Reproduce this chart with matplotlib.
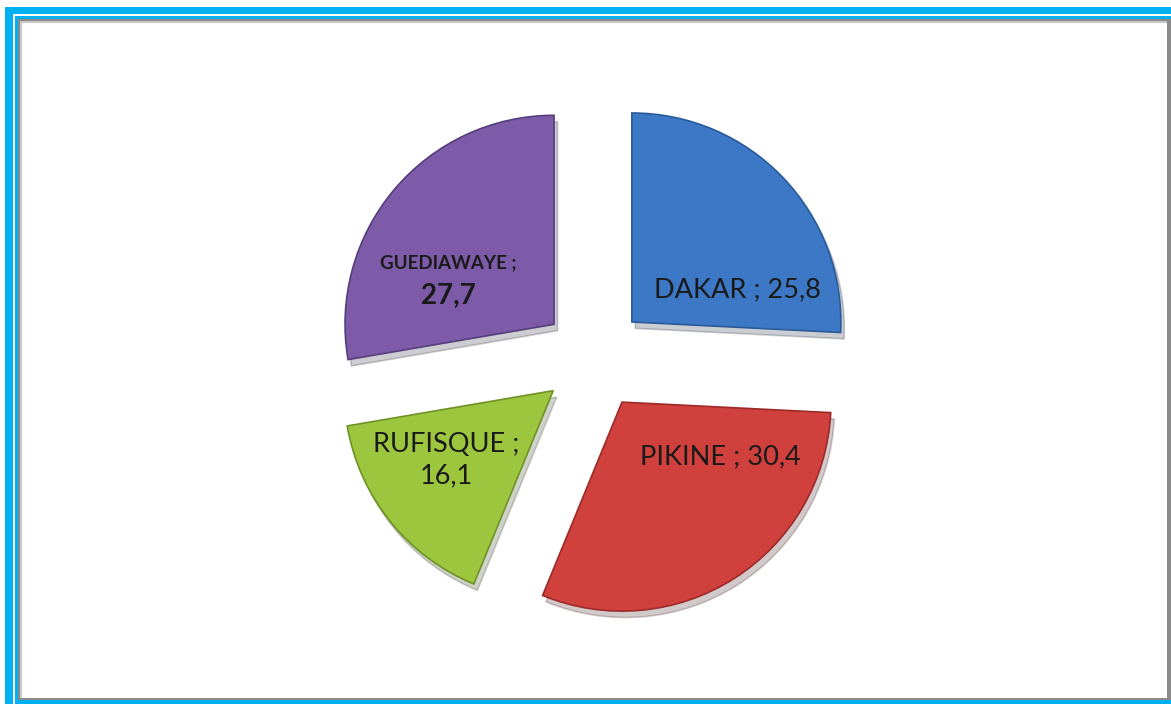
import matplotlib
matplotlib.use("Agg")
import matplotlib.pyplot as plt
import numpy as np
from matplotlib.patches import Rectangle

# data
DISTRICTS = ["DAKAR", "PIKINE", "RUFISQUE", "GUEDIAWAYE"]
SHARES = [25.8, 30.4, 16.1, 27.7]
SHARE_TEXT = ["25,8", "30,4", "16,1", "27,7"]

COLORS = ["#3C78C6", "#D0403D", "#9CC63E", "#7D5BA8"]
EDGES = ["#2A5A98", "#9C2A28", "#6E9226", "#563D7C"]

# label placement relative to each wedge apex (radius, angle in deg)
LABEL_POLAR = [(0.53, 17), (0.54, -29), (0.61, -147), (0.55, 157)]

plt.rcParams["font.family"] = ["Lato", "DejaVu Sans"]

W, H = 1171, 704
fig = plt.figure(figsize=(W / 100, H / 100), dpi=100)

# frame drawn in pixel coordinates
bg = fig.add_axes([0, 0, 1, 1])
bg.set_xlim(0, W)
bg.set_ylim(H, 0)
bg.axis("off")
bg.add_patch(Rectangle((5, 7), 1300, 900, color="#00B0F0", lw=0))
bg.add_patch(Rectangle((12.5, 14), 1300, 900, color="white", lw=0))
bg.add_patch(Rectangle((15, 16), 1300, 688, color="#00B0F0", lw=0))
bg.add_patch(Rectangle((18, 19), 1153, 681, color="#8A8A8A", lw=0))
bg.add_patch(Rectangle((20, 21), 1147, 677, color="#C8C8C8", lw=0))
bg.add_patch(Rectangle((22, 23), 1145, 675, color="white", lw=0))

# pie: centre at (594, 358) px, radius 209 px
R = 209
half = 1.4 * R
ax = fig.add_axes([(594 - half) / W, (H - 358 - half) / H, 2 * half / W, 2 * half / H])

wedges, _ = ax.pie(
    SHARES,
    colors=COLORS,
    startangle=90,
    counterclock=False,
    explode=[0.25] * len(SHARES),
    radius=1.0,
    wedgeprops=dict(linewidth=1.2),
    shadow=dict(ox=0.012, oy=-0.022, shade=0.75, alpha=0.22),
    normalize=True,
)
for w, ec in zip(wedges, EDGES):
    w.set_edgecolor(ec)
ax.set_xlim(-1.4, 1.4)
ax.set_ylim(-1.4, 1.4)
ax.set_aspect("equal")
ax.axis("off")

for i, (w, name, txt) in enumerate(zip(wedges, DISTRICTS, SHARE_TEXT)):
    cx, cy = w.center
    r, a = LABEL_POLAR[i]
    x = cx + r * np.cos(np.radians(a))
    y = cy + r * np.sin(np.radians(a))
    if name == "GUEDIAWAYE":
        ax.text(x, y + 0.08, f"{name} ;", ha="center", va="center",
                fontsize=13.5, fontweight="bold", color="#1a1a1a")
        ax.text(x, y - 0.08, txt, ha="center", va="center",
                fontsize=20, fontweight="bold", color="#1a1a1a")
    elif name == "RUFISQUE":
        ax.text(x, y, f"{name} ;\n{txt}", ha="center", va="center",
                fontsize=19.5, color="#1a1a1a", linespacing=1.3)
    else:
        ax.text(x, y, f"{name} ; {txt}", ha="center", va="center",
                fontsize=19.5, color="#1a1a1a")

fig.savefig("out.png", dpi=100)
